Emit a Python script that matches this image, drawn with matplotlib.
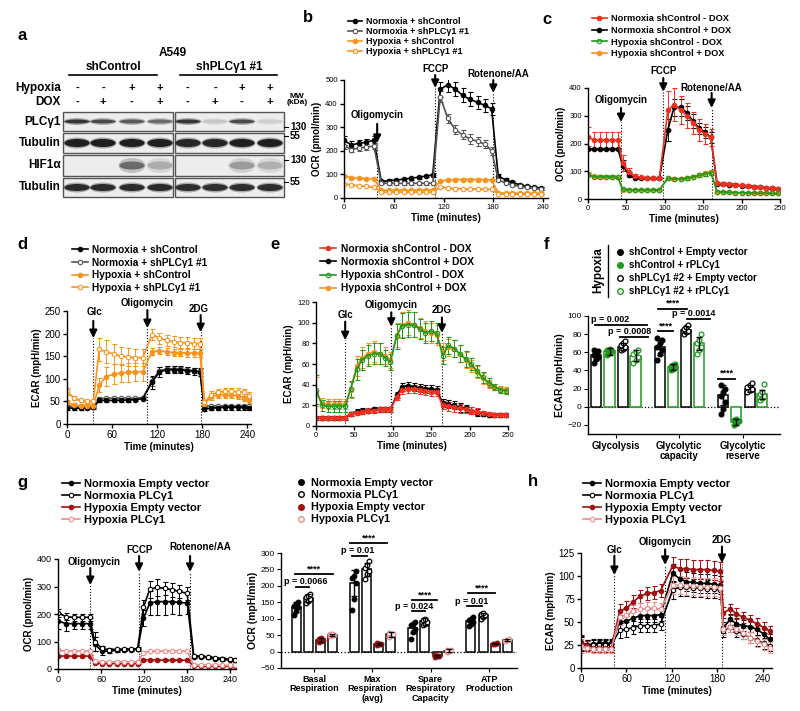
import matplotlib
matplotlib.use("Agg")
import matplotlib.pyplot as plt
from matplotlib.lines import Line2D
from matplotlib.patches import Rectangle, Ellipse
import numpy as np

plt.rcParams['font.family'] = ['Liberation Sans', 'DejaVu Sans']
plt.rcParams['axes.linewidth'] = 1.0

W, H = 800, 711

# ---------------- data ----------------
# a: western blot (band intensity 0..1, 8 lanes)
blot_rows = ['PLCγ1', 'Tubulin', 'HIF1α', 'Tubulin']
hypoxia_row = ['-', '-', '+', '+', '-', '-', '+', '+']
dox_row = ['-', '+', '-', '+', '-', '+', '-', '+']
band_plc = [0.85, 0.75, 0.68, 0.6, 0.85, 0.18, 0.75, 0.14]
band_tub = [0.95, 0.95, 0.95, 0.95, 0.92, 0.92, 0.95, 0.95]
band_hif = [0.0, 0.0, 0.6, 0.3, 0.0, 0.0, 0.38, 0.28]
band_tub2 = [0.9, 0.9, 0.9, 0.9, 0.88, 0.88, 0.88, 0.88]
mw_marks = ['130', '55', '130', '55']

# b: OCR, shPLCg1 normoxia/hypoxia
tb = [0, 9, 18, 27, 36, 45, 54, 63, 72, 81, 90, 99, 107, 116, 125, 134, 143, 152, 161, 170, 178,
      186, 195, 203, 212, 221, 229, 238]
b_nc = [244, 225, 232, 236, 246, 70, 73, 76, 80, 84, 88, 93, 98, 460, 480, 462, 435, 418, 405, 392, 378,
        92, 77, 66, 56, 49, 45, 41]
b_nc_err = [18, 15, 15, 15, 15, 6, 6, 6, 6, 6, 6, 6, 8, 30, 30, 28, 30, 30, 28, 28, 25, 8, 6, 6, 5, 5, 5, 5]
b_ns = [222, 205, 212, 216, 220, 63, 62, 62, 62, 62, 62, 62, 62, 430, 338, 290, 268, 250, 240, 228, 200,
        77, 63, 56, 49, 45, 41, 38]
b_ns_err = [15, 12, 12, 12, 12, 5, 5, 5, 5, 5, 5, 5, 5, 25, 20, 18, 20, 20, 20, 18, 18, 6, 5, 5, 5, 4, 4, 4]
b_hc = [92, 86, 84, 82, 82, 33, 33, 33, 33, 33, 33, 33, 33, 72, 76, 78, 78, 78, 78, 77, 76,
        22, 21, 21, 20, 20, 20, 20]
b_hc_err = [5, 4, 4, 4, 4, 3, 3, 3, 3, 3, 3, 3, 3, 5, 5, 5, 5, 5, 5, 5, 5, 2, 2, 2, 2, 2, 2, 2]
b_hs = [60, 55, 52, 49, 46, 25, 25, 25, 25, 25, 25, 25, 25, 48, 42, 40, 39, 38, 38, 37, 37,
        17, 17, 16, 16, 16, 16, 15]
b_hs_err = [4, 3, 3, 3, 3, 2, 2, 2, 2, 2, 2, 2, 2, 4, 3, 3, 3, 3, 3, 3, 3, 2, 2, 2, 2, 2, 2, 2]

# c: OCR, DOX
tc = [0, 8, 16, 23, 31, 39, 45, 53, 61, 69, 77, 85, 93, 104, 112, 121, 129, 137, 145, 152, 160,
      168, 176, 184, 192, 200, 208, 216, 224, 232, 240, 248]
c_nm = [225, 212, 212, 212, 212, 212, 130, 98, 82, 78, 76, 76, 76, 320, 340, 320, 300, 275, 250, 235, 222,
        57, 55, 53, 51, 49, 47, 45, 43, 40, 38, 36]
c_nm_err = [35, 30, 30, 30, 30, 30, 30, 15, 8, 5, 4, 4, 4, 70, 60, 50, 45, 40, 40, 35, 30,
            5, 5, 5, 5, 5, 5, 5, 5, 5, 5, 5]
c_np = [180, 180, 180, 180, 180, 180, 120, 88, 76, 75, 75, 75, 75, 250, 330, 330, 310, 280, 255, 240, 222,
        55, 54, 52, 50, 48, 46, 44, 42, 40, 38, 35]
c_np_err = [3, 3, 3, 3, 3, 3, 20, 10, 5, 4, 4, 4, 4, 40, 30, 30, 25, 25, 20, 20, 20,
            4, 4, 4, 4, 4, 4, 4, 4, 4, 4, 4]
c_hm = [88, 80, 80, 80, 80, 78, 35, 33, 33, 33, 33, 33, 33, 75, 72, 72, 75, 80, 85, 90, 95,
        27, 25, 24, 23, 23, 22, 22, 21, 21, 20, 20]
c_hp = [90, 82, 80, 80, 80, 78, 34, 33, 33, 33, 33, 33, 33, 76, 73, 73, 76, 80, 86, 92, 98,
        26, 25, 24, 23, 23, 22, 22, 21, 21, 20, 20]
c_h_err = [6, 5, 5, 5, 5, 5, 4, 4, 4, 4, 4, 4, 4, 5, 5, 5, 6, 6, 7, 8, 8,
           3, 3, 3, 3, 3, 3, 3, 3, 3, 3, 3]

# d: ECAR, shPLCg1
td = [0, 9, 18, 27, 35, 43, 52, 62, 72, 81, 91, 101, 113, 123, 133, 142, 151, 160, 169, 177,
      183, 192, 201, 210, 219, 228, 236, 242]
d_nc = [35, 35, 35, 36, 37, 52, 52, 52, 52, 53, 54, 56, 92, 115, 120, 120, 120, 118, 117, 115,
        33, 35, 36, 37, 37, 37, 37, 36]
d_nc_err = [4, 3, 3, 3, 3, 4, 4, 4, 4, 4, 4, 4, 15, 12, 8, 8, 8, 8, 8, 8, 5, 5, 5, 5, 5, 5, 5, 5]
d_ns = [40, 38, 38, 38, 38, 56, 57, 57, 57, 57, 57, 58, 95, 118, 122, 122, 121, 120, 118, 116,
        40, 40, 40, 40, 40, 40, 40, 40]
d_ns_err = [3, 3, 3, 3, 3, 3, 3, 3, 3, 3, 3, 3, 10, 8, 6, 6, 6, 6, 6, 6, 3, 3, 3, 3, 3, 3, 3, 3]
d_hc = [48, 42, 40, 40, 40, 86, 105, 110, 113, 114, 115, 116, 160, 162, 160, 158, 158, 157, 157, 157,
        45, 60, 65, 65, 65, 63, 58, 52]
d_hc_err = [5, 4, 4, 4, 4, 15, 22, 22, 20, 20, 20, 20, 8, 8, 8, 8, 8, 8, 8, 8, 5, 8, 8, 8, 8, 8, 8, 6]
d_hs = [72, 58, 52, 50, 50, 165, 160, 155, 150, 148, 147, 147, 198, 190, 185, 182, 180, 180, 178, 178,
        48, 65, 70, 72, 72, 71, 70, 63]
d_hs_err = [8, 5, 4, 4, 4, 25, 25, 22, 20, 20, 18, 18, 12, 12, 12, 12, 12, 12, 12, 12, 5, 8, 8, 8, 8, 8, 8, 8]

# e: ECAR, DOX
te = [0, 8, 15, 23, 30, 38, 45, 53, 60, 68, 75, 83, 90, 97, 105, 112, 120, 127, 135, 142, 150, 157,
      165, 172, 180, 187, 195, 202, 210, 217, 225, 232, 240, 248]
e_nm = [8, 8, 8, 8, 8, 8, 12, 13, 14, 15, 15, 16, 16, 16, 28, 35, 36, 36, 35, 34, 33, 33,
        20, 19, 18, 17, 16, 15, 14, 13, 12, 11, 11, 11]
e_np = [8, 8, 8, 8, 8, 8, 12, 14, 15, 15, 16, 16, 16, 16, 30, 38, 39, 38, 37, 36, 36, 35,
        22, 21, 20, 18, 17, 15, 13, 12, 11, 11, 11, 11]
e_n_err = [2, 2, 2, 2, 2, 2, 2, 2, 2, 2, 2, 2, 2, 2, 3, 4, 4, 4, 4, 4, 4, 4,
           4, 4, 4, 4, 3, 3, 3, 2, 2, 2, 2, 2]
e_hm = [35, 20, 19, 19, 19, 19, 36, 55, 64, 68, 70, 70, 66, 62, 87, 97, 98, 98, 94, 90, 92, 90,
        68, 78, 75, 70, 65, 60, 53, 47, 42, 38, 35, 34]
e_hp = [33, 22, 21, 21, 21, 21, 35, 58, 66, 70, 72, 70, 68, 64, 88, 98, 100, 98, 95, 92, 90, 88,
        72, 76, 75, 70, 64, 58, 52, 46, 41, 38, 36, 35]
e_h_err = [14, 5, 5, 5, 5, 5, 8, 10, 10, 10, 10, 10, 8, 8, 12, 12, 12, 12, 10, 10, 10, 10,
           8, 8, 8, 8, 8, 6, 6, 5, 4, 3, 3, 3]

# f: ECAR bars, hypoxia rescue
f_groups = ['Glycolysis', 'Glycolytic\ncapacity', 'Glycolytic\nreserve']
f_labels = ['shControl + Empty vector', 'shControl + rPLCγ1', 'shPLCγ1 #2 + Empty vector', 'shPLCγ1 #2 + rPLCγ1']
f_mean = [[57, 66, 13], [61, 44, -17], [66, 85, 20], [56, 70, 14]]
f_sd = [[5, 9, 11], [4, 3, 3], [4, 4, 4], [6, 7, 5]]
f_pts = [[[48, 53, 55, 57, 59, 61, 63], [52, 58, 62, 66, 70, 74, 76], [-8, -2, 5, 12, 16, 20, 24]],
         [[57, 59, 61, 62, 64], [41, 42, 44, 45, 46, 47], [-20, -18, -16, -15, -14]],
         [[62, 64, 66, 68, 70, 72], [80, 82, 84, 86, 88, 90], [16, 18, 20, 22, 24, 26]],
         [[48, 52, 55, 58, 60, 62], [58, 62, 66, 70, 74, 80], [8, 10, 12, 14, 16, 25]]]

# g: OCR time course, PLCg1 overexpression
tg = [0, 11, 22, 33, 44, 51, 61, 71, 82, 92, 102, 111, 119, 128, 138, 149, 159, 169, 180,
      189, 199, 209, 219, 229, 239, 246]
g_nev = [175, 165, 165, 165, 165, 90, 65, 65, 68, 70, 70, 72, 185, 240, 245, 245, 245, 242, 240,
         45, 45, 42, 38, 35, 33, 32]
g_nev_err = [30, 25, 20, 20, 20, 25, 15, 8, 6, 6, 6, 6, 30, 45, 50, 50, 45, 45, 40, 5, 5, 5, 5, 5, 5, 5]
g_nplc = [205, 190, 188, 188, 188, 100, 75, 70, 72, 72, 73, 74, 225, 290, 297, 293, 288, 282, 275,
          48, 46, 44, 41, 38, 35, 33]
g_nplc_err = [15, 12, 12, 12, 12, 35, 10, 5, 5, 5, 5, 5, 25, 30, 30, 25, 25, 25, 25, 4, 4, 4, 4, 4, 4, 4]
g_hev = [47, 47, 47, 47, 47, 22, 20, 20, 20, 20, 20, 20, 33, 33, 33, 32, 32, 32, 32,
         12, 11, 11, 11, 10, 10, 10]
g_hplc = [68, 65, 65, 65, 65, 28, 26, 26, 26, 26, 26, 26, 60, 65, 65, 66, 66, 66, 65,
          15, 14, 14, 14, 13, 13, 13]
g_h_err = [4, 3, 3, 3, 3, 3, 3, 3, 3, 3, 3, 3, 4, 4, 4, 4, 4, 4, 4, 2, 2, 2, 2, 2, 2, 2]
g_labels = ['Normoxia Empty vector', 'Normoxia PLCγ1', 'Hypoxia Empty vector', 'Hypoxia PLCγ1']

# g (bars): OCR parameters
gb_groups = ['Basal\nRespiration', 'Max\nRespiration\n(avg)', 'Spare\nRespiratory\nCapacity', 'ATP\nProduction']
gb_mean = [[136, 208, 72, 92], [162, 250, 92, 110], [35, 22, -13, 24], [50, 52, 3, 35]]
gb_sd = [[15, 40, 15, 10], [12, 20, 10, 7], [5, 3, 2, 2], [3, 8, 5, 2]]
gb_pts = [[[112, 125, 135, 140, 145, 150], [128, 160, 210, 225, 230, 245], [38, 60, 70, 80, 85, 90], [78, 85, 90, 95, 100, 105]],
          [[148, 155, 160, 165, 170, 175], [220, 235, 245, 255, 265, 275], [80, 85, 90, 95, 100], [100, 105, 110, 113, 117]],
          [[30, 33, 35, 38, 40], [20, 22, 23, 25], [-15, -13, -12, -11], [22, 24, 26]],
          [[47, 49, 50, 52, 53], [45, 50, 55, 58], [0, 2, 4, 6], [33, 35, 37]]]

# h: ECAR time course, PLCg1 overexpression
th = [0, 8, 16, 24, 32, 40, 51, 60, 69, 78, 87, 96, 105, 121, 130, 139, 148, 157, 166, 175, 184,
      188, 197, 205, 214, 223, 232, 241, 249]
h_nev = [27, 25, 26, 27, 27, 27, 50, 51, 54, 57, 57, 57, 58, 103, 97, 94, 93, 92, 92, 91, 90,
         44, 53, 48, 46, 45, 42, 37, 31]
h_nplc = [26, 25, 25, 25, 25, 25, 41, 42, 44, 46, 46, 46, 48, 85, 88, 88, 87, 87, 86, 86, 85,
          40, 45, 40, 37, 33, 30, 27, 24]
h_hev = [28, 24, 22, 22, 22, 22, 62, 65, 72, 78, 81, 82, 84, 111, 108, 108, 107, 107, 107, 106, 105,
         60, 64, 59, 55, 52, 48, 44, 40]
h_hplc = [24, 22, 21, 21, 21, 21, 55, 58, 62, 64, 65, 65, 64, 90, 90, 89, 89, 88, 88, 88, 87,
          42, 45, 42, 38, 33, 29, 26, 22]
h_err = [8, 5, 5, 5, 5, 5, 8, 8, 7, 7, 7, 7, 7, 10, 10, 10, 10, 10, 10, 10, 10,
         6, 6, 6, 6, 6, 6, 6, 6]

ORANGE = '#F7941D'
RED = '#F0301E'
GREEN = '#1E9A1E'
DARKRED = '#A01010'
PINK = '#F08C8C'
GRAY = '#555555'

fig = plt.figure(figsize=(W / 100, H / 100), dpi=100)


def box(l, t, r, b):
    return [l / W, 1 - b / H, (r - l) / W, (b - t) / H]


def panel_letter(x, y, s):
    fig.text(x / W, 1 - y / H, s, fontsize=12, fontweight='bold', ha='center', va='center')


def style(ax, xlim, ylim, xticks, yticks, tick_fs, ylabel, lab_fs=7):
    ax.set_xlim(xlim)
    ax.set_ylim(ylim)
    ax.set_xticks(xticks)
    ax.set_yticks(yticks)
    ax.spines[['top', 'right']].set_visible(False)
    ax.tick_params(labelsize=tick_fs, length=3, width=1, pad=1.5)
    ax.set_xlabel('Time (minutes)', fontsize=lab_fs, fontweight='bold', labelpad=1)
    ax.set_ylabel(ylabel, fontsize=lab_fs, fontweight='bold', labelpad=2)


def trace(ax, t, y, err, color, mfc, ms=3.2, z=2):
    ax.errorbar(t, y, yerr=err, color=color, lw=1.2, marker='o', ms=ms, mfc=mfc, mec=color, mew=0.8,
                elinewidth=0.7, capsize=1.8, capthick=0.7, zorder=z)
    return Line2D([], [], color=color, lw=1.2, marker='o', ms=ms, mfc=mfc, mec=color, mew=0.8)


def inject(ax, t, label, ytext, ystart, ytip, tx=None, fs=7):
    ax.plot([t, t], [0, ytip], color='k', ls=':', lw=0.8, clip_on=False, zorder=1)
    ax.annotate('', xy=(t, ytip), xytext=(t, ystart), annotation_clip=False,
                arrowprops=dict(arrowstyle='-|>,head_length=0.45,head_width=0.22', color='k', lw=1.5,
                                shrinkA=0, shrinkB=0))
    ax.text(t if tx is None else tx, ytext, label, ha='center', va='center', fontsize=fs,
            fontweight='bold', clip_on=False)


def legend_at(handles, labels, x, y, fs, spacing, hl=1.6, tp=0.4):
    fig.legend(handles, labels, loc='upper left', bbox_to_anchor=(x / W, 1 - y / H), frameon=False,
               prop=dict(size=fs, weight='bold'), handlelength=hl, handletextpad=tp,
               labelspacing=spacing, borderpad=0, borderaxespad=0)


def sig(ax, x1, x2, y, label, fs=6.5, tx=None):
    ax.plot([x1, x2], [y, y], color='k', lw=1.3, clip_on=False)
    ax.annotate(label, xy=((x1 + x2) / 2 if tx is None else tx, y), xytext=(0, 0.5),
                textcoords='offset points', ha='center', va='bottom', fontsize=fs,
                fontweight='bold', annotation_clip=False)


def bar_panel(ax, means, sds, pts, offsets, width, edges, dot_fc, dot_ec, dot_s=9):
    centers = np.arange(len(means[0]))
    for i in range(len(means)):
        x = centers + offsets[i]
        ax.bar(x, means[i], width=width, color='white', edgecolor=edges[i], lw=1.1, zorder=2)
        ax.errorbar(x, means[i], yerr=sds[i], fmt='none', ecolor='k', elinewidth=1, capsize=2,
                    capthick=1, zorder=4)
        for j, vals in enumerate(pts[i]):
            n = len(vals)
            jit = ((np.arange(n) % 3) - 1) * width * 0.22
            ax.scatter(x[j] + jit, vals, s=dot_s, facecolors=dot_fc[i], edgecolors=dot_ec[i],
                       linewidths=0.9, zorder=3)


# ---------------- a: blot ----------------
panel_letter(22, 35, 'a')
ax = fig.add_axes(box(0, 0, 330, 205))
ax.set_xlim(0, 330)
ax.set_ylim(205, 0)
ax.axis('off')
row_top = [112, 133, 155, 178]
row_bot = [131, 153, 176, 197]
box_x = [(63, 173), (175, 284)]
lane_x = [77, 103, 132, 160, 188, 215, 242, 270]
band_h = [4, 8, 8, 7]
band_halo = [3, 3, 7, 3]
for r, bands in enumerate([band_plc, band_tub, band_hif, band_tub2]):
    for x0, x1 in box_x:
        ax.add_patch(Rectangle((x0, row_top[r]), x1 - x0, row_bot[r] - row_top[r], facecolor='#EDEDED',
                               edgecolor='#555555', lw=1))
    yc = (row_top[r] + row_bot[r]) / 2
    for k, inten in enumerate(bands):
        if inten <= 0:
            continue
        g = 0.93 - 0.85 * inten
        ax.add_patch(Ellipse((lane_x[k], yc), 27, band_h[r] + band_halo[r], facecolor=(g, g, g),
                             alpha=0.35, lw=0))
        ax.add_patch(Ellipse((lane_x[k], yc), 25, band_h[r], facecolor=(g, g, g), lw=0))
    ax.text(61, yc, blot_rows[r], ha='right', va='center', fontsize=8.5, fontweight='bold')
ax.text(61, 88, 'Hypoxia', ha='right', va='center', fontsize=8.5, fontweight='bold')
ax.text(61, 102, 'DOX', ha='right', va='center', fontsize=8.5, fontweight='bold')
for k in range(8):
    ax.text(lane_x[k], 88, hypoxia_row[k], ha='center', va='center', fontsize=8, fontweight='bold')
    ax.text(lane_x[k], 102, dox_row[k], ha='center', va='center', fontsize=8, fontweight='bold')
ax.text(173, 53, 'A549', ha='center', va='center', fontsize=8.5, fontweight='bold')
ax.text(113, 67, 'shControl', ha='center', va='center', fontsize=8.5, fontweight='bold')
ax.plot([69, 157], [75, 75], color='k', lw=1.2)
ax.text(229, 67, 'shPLCγ1 #1', ha='center', va='center', fontsize=8.5, fontweight='bold')
ax.plot([180, 277], [75, 75], color='k', lw=1.2)
ax.text(297, 96, 'MW', ha='center', va='center', fontsize=6, fontweight='bold')
ax.text(297, 103, '(kDa)', ha='center', va='center', fontsize=6, fontweight='bold')
for ym, lab in zip([127, 136, 160, 182], mw_marks):
    ax.plot([284, 288], [ym, ym], color='k', lw=0.8)
    ax.text(290, ym, lab, ha='left', va='center', fontsize=7, fontweight='bold')

# ---------------- b ----------------
panel_letter(308, 18, 'b')
ax = fig.add_axes(box(344, 80, 548, 198))
hb = [trace(ax, tb, b_nc, b_nc_err, 'k', 'k'),
      trace(ax, tb, b_ns, b_ns_err, GRAY, 'white'),
      trace(ax, tb, b_hc, b_hc_err, ORANGE, ORANGE),
      trace(ax, tb, b_hs, b_hs_err, ORANGE, 'white')]
style(ax, (0, 246), (0, 500), [0, 60, 120, 180, 240], [0, 100, 200, 300, 400, 500], 5.5, 'OCR (pmol/min)')
inject(ax, 40, 'Oligomycin', 352, 314, 233)
inject(ax, 110, 'FCCP', 547, 521, 466)
inject(ax, 180, 'Rotenone/AA', 525, 500, 445, tx=186)
legend_at(hb, ['Normoxia + shControl', 'Normoxia + shPLCγ1 #1', 'Hypoxia + shControl', 'Hypoxia + shPLCγ1 #1'],
          348, 17, 6.5, 0.12)

# ---------------- c ----------------
panel_letter(547, 20, 'c')
ax = fig.add_axes(box(588, 88, 780, 199))
h_np = trace(ax, tc, c_np, c_np_err, 'k', 'k')
h_nm = trace(ax, tc, c_nm, c_nm_err, RED, RED)
h_hp = trace(ax, tc, c_hp, c_h_err, ORANGE, ORANGE)
h_hm = trace(ax, tc, c_hm, c_h_err, GREEN, 'none')
style(ax, (0, 250), (0, 400), [0, 50, 100, 150, 200, 250], [0, 100, 200, 300, 400], 5.5, 'OCR (pmol/min)')
inject(ax, 43, 'Oligomycin', 357, 328, 277)
inject(ax, 98, 'FCCP', 461, 436, 386)
inject(ax, 161, 'Rotenone/AA', 400, 382, 328)
legend_at([h_nm, h_np, h_hm, h_hp], ['Normoxia shControl - DOX', 'Normoxia shControl + DOX',
                                     'Hypoxia shControl - DOX', 'Hypoxia shControl + DOX'],
          592, 14, 6.7, 0.3)

# ---------------- d ----------------
panel_letter(22, 245, 'd')
ax = fig.add_axes(box(67, 311, 251, 424))
hd = [trace(ax, td, d_ns, d_ns_err, GRAY, 'white'),
      trace(ax, td, d_nc, d_nc_err, 'k', 'k'),
      trace(ax, td, d_hc, d_hc_err, ORANGE, ORANGE),
      trace(ax, td, d_hs, d_hs_err, ORANGE, 'white')]
style(ax, (0, 245), (0, 250), [0, 60, 120, 180, 240], [0, 50, 100, 150, 200, 250], 7, 'ECAR (mpH/min)')
inject(ax, 35, 'Glc', 248, 228, 190, tx=37)
inject(ax, 107, 'Oligomycin', 268, 252, 212)
inject(ax, 178, '2DG', 254, 241, 203, tx=175)
legend_at([hd[1], hd[0], hd[2], hd[3]],
          ['Normoxia + shControl', 'Normoxia + shPLCγ1 #1', 'Hypoxia + shControl', 'Hypoxia + shPLCγ1 #1'],
          72, 245, 7.3, 0.25)

# ---------------- e ----------------
panel_letter(275, 245, 'e')
ax = fig.add_axes(box(316, 302, 508, 426))
he_np = trace(ax, te, e_np, e_n_err, 'k', 'k')
he_nm = trace(ax, te, e_nm, e_n_err, RED, RED)
he_hp = trace(ax, te, e_hp, e_h_err, ORANGE, ORANGE)
he_hm = trace(ax, te, e_hm, e_h_err, GREEN, 'none')
style(ax, (0, 250), (0, 120), [0, 50, 100, 150, 200, 250], [0, 20, 40, 60, 80, 100, 120], 5.5,
      'ECAR (mpH/min)')
inject(ax, 38, 'Glc', 107, 101, 83)
inject(ax, 98, 'Oligomycin', 117, 110, 96)
inject(ax, 164, '2DG', 112, 105, 90)
legend_at([he_nm, he_np, he_hm, he_hp], ['Normoxia shControl - DOX', 'Normoxia shControl + DOX',
                                         'Hypoxia shControl - DOX', 'Hypoxia shControl + DOX'],
          320, 244, 7.4, 0.3)

# ---------------- f ----------------
panel_letter(547, 245, 'f')
ax = fig.add_axes(box(588, 316, 780, 434))
f_off = [-0.31, -0.1, 0.11, 0.31]
bar_panel(ax, f_mean, f_sd, f_pts, f_off, 0.16, ['k', GREEN, 'k', GREEN],
          ['k', GREEN, 'white', 'white'], ['k', GREEN, 'k', GREEN], dot_s=12)
ax.axhline(0, color='k', ls=':', lw=0.9, zorder=1)
ax.set_xlim(-0.44, 2.59)
ax.set_ylim(-30, 100)
ax.set_yticks([-20, 0, 20, 40, 60, 80, 100])
ax.set_xticks(range(3))
ax.set_xticklabels(f_groups, fontsize=7, fontweight='bold', linespacing=1.0)
ax.spines[['top', 'right']].set_visible(False)
ax.tick_params(axis='y', labelsize=6, length=3, pad=1.5)
ax.tick_params(axis='x', length=3, pad=2)
ax.set_ylabel('ECAR (mpH/min)', fontsize=7.5, fontweight='bold', labelpad=2)
sig(ax, -0.33, 0.49, 90, 'p = 0.002', tx=-0.09)
sig(ax, 0.07, 0.5, 77, 'p = 0.0008', tx=0.22)
sig(ax, 0.67, 1.12, 108, '****')
sig(ax, 1.12, 1.48, 97, 'p = 0.0014', tx=1.22)
sig(ax, 0.67, 0.9, 83, '****')
sig(ax, 1.61, 1.88, 31, '****')
hf = [Line2D([], [], ls='none', marker='o', ms=4, mfc=fc, mec=ec, mew=1)
      for fc, ec in zip(['k', GREEN, 'white', 'white'], ['k', GREEN, 'k', GREEN])]
legend_at(hf, f_labels, 616, 247, 7, 0.32, hl=0.8, tp=0.5)
fig.text(598 / W, 1 - 270 / H, 'Hypoxia', rotation=90, ha='center', va='center', fontsize=8.5,
         fontweight='bold')
fig.add_artist(Line2D([608 / W, 608 / W], [1 - 245 / H, 1 - 297 / H], color='k', lw=1))

# ---------------- g (time course) ----------------
panel_letter(22, 482, 'g')
ax = fig.add_axes(box(58, 559, 236, 669))
hg = [trace(ax, tg, g_nev, g_nev_err, 'k', 'k'),
      trace(ax, tg, g_nplc, g_nplc_err, 'k', 'white'),
      trace(ax, tg, g_hev, g_h_err, DARKRED, DARKRED),
      trace(ax, tg, g_hplc, g_h_err, PINK, 'white')]
style(ax, (0, 248), (0, 400), [0, 60, 120, 180, 240], [0, 100, 200, 300, 400], 6.5, 'OCR (pmol/min)')
inject(ax, 45, 'Oligomycin', 389, 367, 305, tx=50)
inject(ax, 113, 'FCCP', 433, 411, 353)
inject(ax, 184, 'Rotenone/AA', 444, 411, 353, tx=198)
legend_at(hg, g_labels, 62, 479, 8, 0.18)

# ---------------- g (bars) ----------------
ax = fig.add_axes(box(281, 553, 517, 668))
g_off = [-0.31, -0.1, 0.11, 0.31]
bar_panel(ax, gb_mean, gb_sd, gb_pts, g_off, 0.155, ['k', 'k', 'k', 'k'],
          ['k', 'white', DARKRED, 'white'], ['k', 'k', DARKRED, PINK], dot_s=11)
ax.axhline(0, color='k', ls=':', lw=0.9, zorder=1)
ax.set_xlim(-0.57, 3.48)
ax.set_ylim(-50, 300)
ax.set_yticks([-50, 0, 50, 100, 150, 200, 250, 300])
ax.set_xticks(range(4))
ax.set_xticklabels(gb_groups, fontsize=6.5, fontweight='bold', linespacing=1.05)
ax.spines[['top', 'right']].set_visible(False)
ax.tick_params(axis='y', labelsize=6, length=3, pad=1.5)
ax.tick_params(axis='x', length=3, pad=2)
ax.set_ylabel('OCR (mpH/min)', fontsize=7.5, fontweight='bold', labelpad=2)
sig(ax, -0.33, 0.33, 236, '****')
sig(ax, -0.31, -0.09, 196, 'p = 0.0066', tx=-0.15)
sig(ax, 0.62, 1.25, 330, '****')
sig(ax, 0.65, 0.91, 291, 'p = 0.01', tx=0.74)
sig(ax, 1.68, 2.11, 156, '****')
sig(ax, 1.68, 1.9, 122, 'p = 0.024', tx=1.72)
sig(ax, 2.64, 3.1, 177, '****')
sig(ax, 2.62, 2.88, 138, 'p = 0.01', tx=2.7)
hgb = [Line2D([], [], ls='none', marker='o', ms=4, mfc=fc, mec=ec, mew=1)
       for fc, ec in zip(['k', 'white', DARKRED, 'white'], ['k', 'k', DARKRED, PINK])]
legend_at(hgb, g_labels, 297, 478, 7.8, 0.2, hl=0.8, tp=0.5)

# ---------------- h ----------------
panel_letter(533, 482, 'h')
ax = fig.add_axes(box(581, 553, 772, 668))
hh = [trace(ax, th, h_nev, h_err, 'k', 'k'),
      trace(ax, th, h_nplc, h_err, 'k', 'white'),
      trace(ax, th, h_hev, h_err, DARKRED, DARKRED),
      trace(ax, th, h_hplc, h_err, PINK, 'white')]
style(ax, (0, 252), (0, 125), [0, 60, 120, 180, 240], [0, 25, 50, 75, 100, 125], 7, 'ECAR (mpH/min)')
inject(ax, 44, 'Glc', 128, 122, 101)
inject(ax, 111, 'Oligomycin', 137, 129, 112)
inject(ax, 186, '2DG', 139, 132, 114)
legend_at(hh, g_labels, 583, 479, 8, 0.18)

fig.savefig('out.png', dpi=100)
